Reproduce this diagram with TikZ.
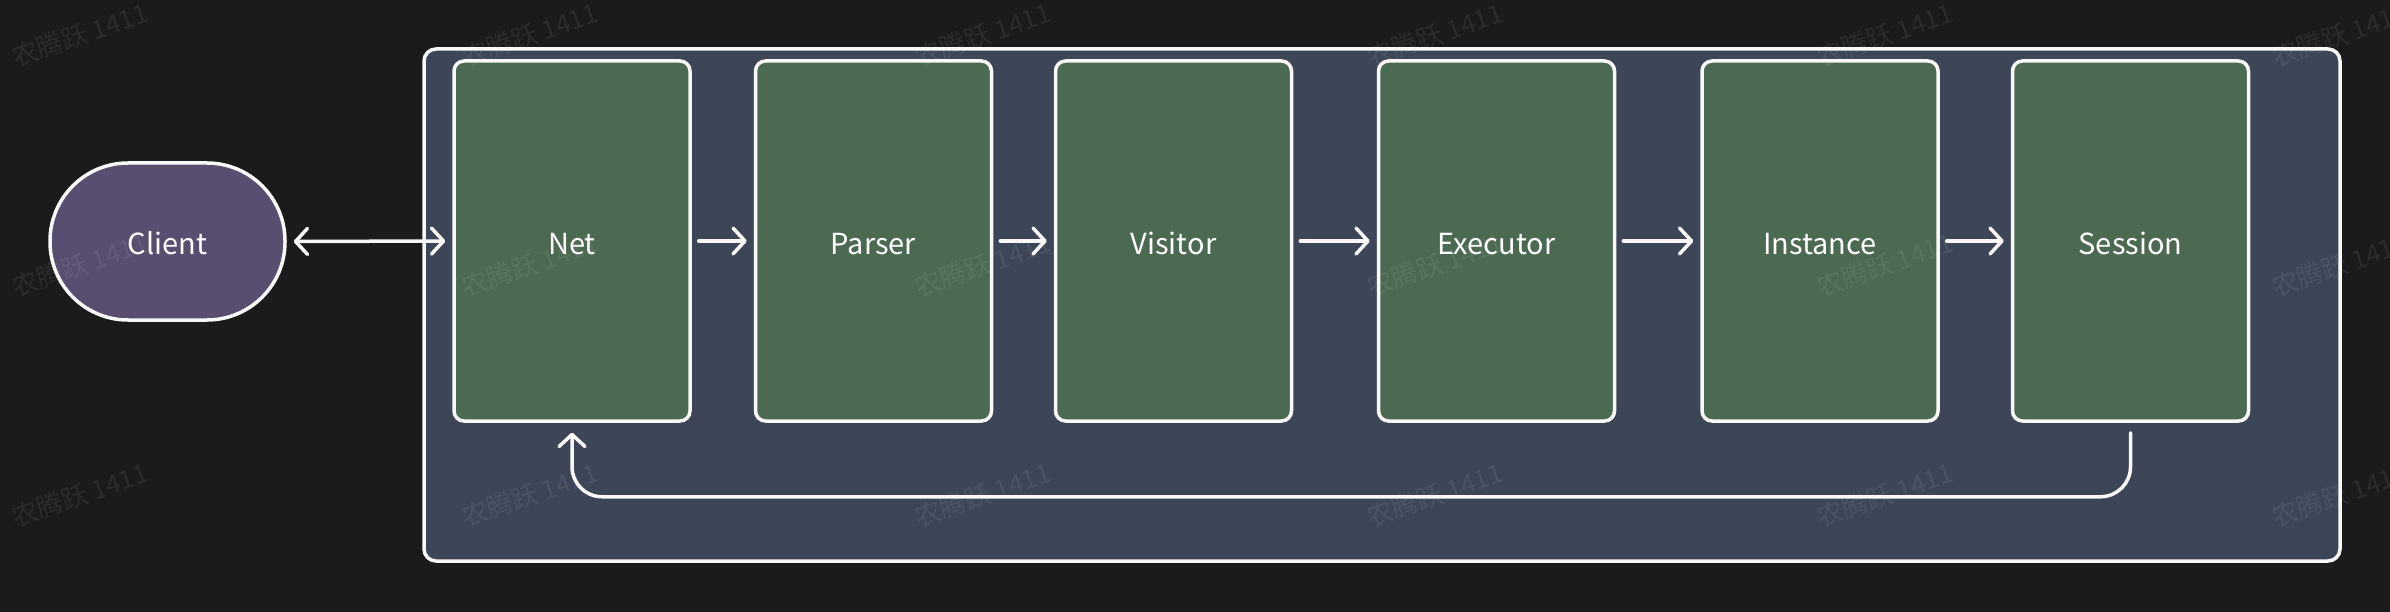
\documentclass[tikz,border=0pt]{standalone}
\usepackage{fontspec}
\setmainfont{Noto Sans CJK SC}
\usetikzlibrary{arrows.meta}
\definecolor{bgc}{HTML}{1B1B1B}
\definecolor{framec}{HTML}{3D4656}
\definecolor{stagec}{HTML}{4C6A51}
\definecolor{clientc}{HTML}{584E6F}
\definecolor{linec}{HTML}{F8F8F8}
\tikzset{
  framebox/.style={draw=linec, line width=3.5pt, fill=framec, rounded corners=12pt, inner sep=0pt},
  stagebox/.style={draw=linec, line width=3.5pt, fill=stagec, rounded corners=10pt,
    minimum width=236pt, minimum height=360pt, inner sep=0pt, text=white,
    text height=27pt, text depth=0pt,
    font=\fontsize{29}{34}\selectfont},
  clientbox/.style={draw=linec, line width=3.5pt, fill=clientc, rounded corners=78pt,
    minimum width=235pt, minimum height=157pt, inner sep=0pt, text=white,
    text height=27pt, text depth=0pt,
    font=\fontsize{29}{34}\selectfont},
  flow/.style={draw=linec, line width=3.5pt, line cap=round,
    -{Straight Barb[length=12pt,width=26pt,round]}, shorten >=7pt, shorten <=7pt},
  backflow/.style={draw=linec, line width=3.5pt, line cap=round, rounded corners=30pt,
    -{Straight Barb[length=12pt,width=26pt,round]}},
  wmark/.style={text=white, opacity=0.07, rotate=19, font=\fontsize{26}{30}\selectfont}
}
\begin{document}
\begin{tikzpicture}[x=1pt,y=-1pt]
\useasboundingbox (0,0) rectangle (2390,612);
\fill[bgc] (0,0) rectangle (2390,612);
\node[framebox, minimum width=1916pt, minimum height=512pt] (frame) at (1382,305) {};
\node[clientbox] (client) at (167.5,241.5) {Client};
\node[stagebox] (net) at (572,241) {Net};
\node[stagebox] (parser) at (873.5,241) {Parser};
\node[stagebox] (visitor) at (1173.5,241) {Visitor};
\node[stagebox] (executor) at (1496.5,241) {Executor};
\node[stagebox] (instance) at (1820,241) {Instance};
\node[stagebox] (session) at (2130.5,241) {Session};
\draw[flow, {Straight Barb[length=12pt,width=26pt,round]}-{Straight Barb[length=12pt,width=26pt,round]}] (client.east) -- (net.west);
\draw[flow] (net) -- (parser);
\draw[flow] (parser) -- (visitor);
\draw[flow] (visitor) -- (executor);
\draw[flow] (executor) -- (instance);
\draw[flow] (instance) -- (session);
\coordinate (sb) at ([yshift=-10pt]session.south);
\coordinate (nb) at ([yshift=-10pt]net.south);
\draw[backflow] (sb) -- ++(0,64) -| (nb);
\foreach \x [count=\i] in {80,530,983,1435,1885,2340}{
  \foreach \y [count=\j] in {35,265,495}{
    \node[wmark] (wm\i\j) at (\x,\y) {农腾跃 1411};
  }
}
\end{tikzpicture}
\end{document}
